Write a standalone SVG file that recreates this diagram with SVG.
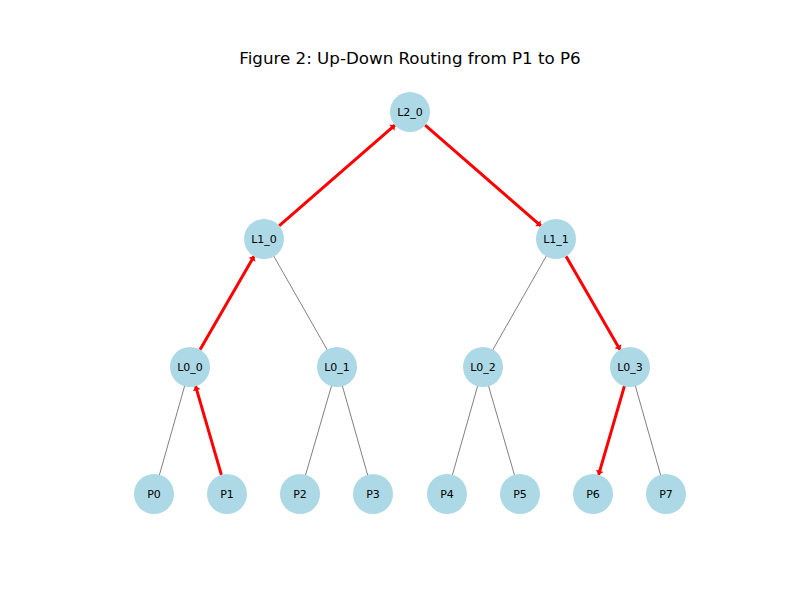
<svg xmlns="http://www.w3.org/2000/svg" width="800" height="600" viewBox="0 0 800 600">
<style>
.n circle{fill:#add8e6;}
.n text{font-family:"DejaVu Sans",sans-serif;font-size:11px;fill:#000;text-anchor:middle;dominant-baseline:central;}
.g{stroke:#808080;stroke-width:1;fill:none;}
.r{stroke:#ff0000;stroke-width:3;fill:none;marker-end:url(#ah);}
.title{font-family:"DejaVu Sans",sans-serif;font-size:16.7px;text-anchor:middle;fill:#000;}
</style>
<defs>
<marker id="ah" markerUnits="userSpaceOnUse" markerWidth="12" markerHeight="12" viewBox="-6 -6 12 12" refX="0" refY="0" orient="auto">
<path d="M0,0 L-4,-4 L-4,4 Z" fill="#ff0000"/>
</marker>
</defs>
<rect width="800" height="600" fill="#fff"/>
<text class="title" x="410" y="64">Figure 2: Up-Down Routing from P1 to P6</text>
<g id="connectors">
<line class="g" x1="264" y1="239" x2="337" y2="367"/>
<line class="g" x1="556" y1="239" x2="483" y2="367"/>
<line class="g" x1="190" y1="367" x2="154" y2="494"/>
<line class="g" x1="337" y1="367" x2="300" y2="494"/>
<line class="g" x1="337" y1="367" x2="373" y2="494"/>
<line class="g" x1="483" y1="367" x2="447" y2="494"/>
<line class="g" x1="483" y1="367" x2="520" y2="494"/>
<line class="g" x1="630" y1="367" x2="666" y2="494"/>
<line class="r" x1="221.4" y1="474.8" x2="195.6" y2="386.2"/>
<line class="r" x1="200.0" y1="349.7" x2="254.0" y2="256.3"/>
<line class="r" x1="279.1" y1="225.9" x2="394.9" y2="125.1"/>
<line class="r" x1="425.1" y1="125.1" x2="540.9" y2="225.9"/>
<line class="r" x1="566.0" y1="256.3" x2="620.0" y2="349.7"/>
<line class="r" x1="624.4" y1="386.2" x2="598.6" y2="474.8"/>
</g>
<g id="L2_0" class="n"><circle cx="410" cy="112" r="20"/><text x="410" y="112">L2_0</text></g>
<g id="L1_0" class="n"><circle cx="264" cy="239" r="20"/><text x="264" y="239">L1_0</text></g>
<g id="L1_1" class="n"><circle cx="556" cy="239" r="20"/><text x="556" y="239">L1_1</text></g>
<g id="L0_0" class="n"><circle cx="190" cy="367" r="20"/><text x="190" y="367">L0_0</text></g>
<g id="L0_1" class="n"><circle cx="337" cy="367" r="20"/><text x="337" y="367">L0_1</text></g>
<g id="L0_2" class="n"><circle cx="483" cy="367" r="20"/><text x="483" y="367">L0_2</text></g>
<g id="L0_3" class="n"><circle cx="630" cy="367" r="20"/><text x="630" y="367">L0_3</text></g>
<g id="P0" class="n"><circle cx="154" cy="494" r="20"/><text x="154" y="494">P0</text></g>
<g id="P1" class="n"><circle cx="227" cy="494" r="20"/><text x="227" y="494">P1</text></g>
<g id="P2" class="n"><circle cx="300" cy="494" r="20"/><text x="300" y="494">P2</text></g>
<g id="P3" class="n"><circle cx="373" cy="494" r="20"/><text x="373" y="494">P3</text></g>
<g id="P4" class="n"><circle cx="447" cy="494" r="20"/><text x="447" y="494">P4</text></g>
<g id="P5" class="n"><circle cx="520" cy="494" r="20"/><text x="520" y="494">P5</text></g>
<g id="P6" class="n"><circle cx="593" cy="494" r="20"/><text x="593" y="494">P6</text></g>
<g id="P7" class="n"><circle cx="666" cy="494" r="20"/><text x="666" y="494">P7</text></g>
</svg>
